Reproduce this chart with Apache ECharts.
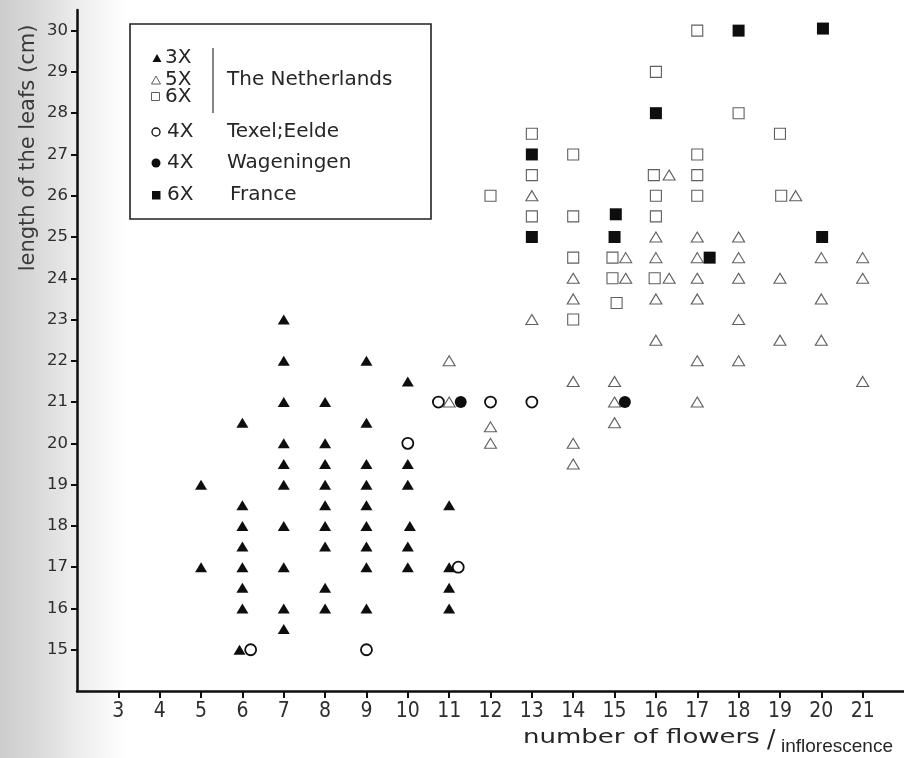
<!DOCTYPE html>
<html>
<head>
<meta charset="utf-8">
<script src="https://cdn.jsdelivr.net/npm/echarts@6.0.0/dist/echarts.min.js"></script>
<style>
  html, body { margin: 0; padding: 0; background: #fff; }
  #chart { width: 904px; height: 758px; }
</style>
</head>
<body>
<div id="chart"></div>
<script>
// ---- data (x = number of flowers / inflorescence, y = leaf length cm) ----
const xTicks = [3, 4, 5, 6, 7, 8, 9, 10, 11, 12, 13, 14, 15, 16, 17, 18, 19, 20, 21];
const yTicks = [15, 16, 17, 18, 19, 20, 21, 22, 23, 24, 25, 26, 27, 28, 29, 30];

// 3X The Netherlands (filled triangles)
const nl3x = [
  [7, 23], [7, 22], [9, 22], [10, 21.5], [7, 21], [8, 21], [6, 20.5], [9, 20.5],
  [7, 20], [8, 20], [7, 19.5], [8, 19.5], [9, 19.5], [10, 19.5],
  [5, 19], [7, 19], [8, 19], [9, 19], [10, 19],
  [6, 18.5], [8, 18.5], [9, 18.5], [11, 18.5],
  [6, 18], [7, 18], [8, 18], [9, 18], [10.05, 18],
  [6, 17.5], [8, 17.5], [9, 17.5], [10, 17.5],
  [5, 17], [6, 17], [7, 17], [9, 17], [10, 17], [11, 17],
  [6, 16.5], [8, 16.5], [11, 16.5],
  [6, 16], [7, 16], [8, 16], [9, 16], [11, 16],
  [7, 15.5], [5.93, 15]
];
// 5X The Netherlands (open triangles)
const nl5x = [
  [11, 22], [11, 21], [12, 20.4], [12, 20], [13, 23], [13, 26],
  [14, 21.5], [14, 20], [14, 19.5], [14, 24], [14, 23.5],
  [15, 21.5], [15, 21], [15, 20.5], [15.27, 24.5], [15.27, 24],
  [16, 25], [16, 24.5], [16.32, 24], [16, 23.5], [16, 22.5], [16.32, 26.5],
  [17, 25], [17, 24.5], [17, 24], [17, 23.5], [17, 22], [17, 21],
  [18, 25], [18, 24.5], [18, 24], [18, 23], [18, 22],
  [19, 24], [19, 22.5], [19.38, 26],
  [20, 24.5], [20, 23.5], [20, 22.5],
  [21, 24.5], [21, 24], [21, 21.5]
];
// 6X The Netherlands (open squares)
const nl6x = [
  [17, 30], [16, 29], [18, 28], [13, 27.5], [19, 27.5], [14, 27], [17, 27],
  [13, 26.5], [15.95, 26.5], [17, 26.5], [12, 26], [16, 26], [17, 26], [19.03, 26],
  [13, 25.5], [14, 25.5], [16, 25.5], [14, 24.5], [14.95, 24.5], [14.95, 24],
  [15.97, 24], [15.05, 23.4], [14, 23]
];
// 4X Texel;Eelde (open circles)
const texel4x = [[6.2, 15], [9, 15], [10, 20], [10.74, 21], [11.22, 17], [12, 21], [13, 21]];
// 4X Wageningen (filled circles)
const wag4x = [[11.28, 21], [15.25, 21]];
// 6X France (filled squares)
const fr6x = [[18, 30], [20.04, 30.05], [16, 28], [13, 27], [15.03, 25.55], [13, 25], [15, 25], [17.3, 24.5], [20.02, 25]];

// ---- chart ----
const dark = '#0e0e0e';
const grayLine = '#5f5f5f';
const txt = '#2e2e2e';
const sans = "'DejaVu Sans', 'Liberation Sans', sans-serif";
const narrow = "'Liberation Sans Narrow', 'DejaVu Sans Condensed', 'Roboto Condensed', 'Liberation Sans', sans-serif";

const chart = echarts.init(document.getElementById('chart'), null, { renderer: 'canvas' });

function legendTri(cx, cy, filled) {
  return {
    type: 'polygon', z: 20,
    shape: { points: [[cx - 4.5, cy + 4], [cx + 4.5, cy + 4], [cx, cy - 4]] },
    style: filled ? { fill: dark } : { fill: 'none', stroke: grayLine, lineWidth: 1 }
  };
}
function legendText(x, y, text, extra) {
  return {
    type: 'text', z: 20, x: x, y: y,
    style: Object.assign({ text: text, font: '20px ' + sans, fill: '#262626', verticalAlign: 'middle', align: 'left' }, extra || {})
  };
}

const option = {
  backgroundColor: '#fff',
  animation: false,
  grid: { left: 77, right: 0, top: 10, bottom: 67, containLabel: false },
  xAxis: {
    type: 'value', min: 2, max: 22, interval: 1,
    axisLine: { show: true, onZero: false, lineStyle: { color: dark, width: 2.5 } },
    axisTick: { show: true, customValues: xTicks, length: 7, lineStyle: { color: dark, width: 2 } },
    axisLabel: { customValues: xTicks, margin: 10, fontSize: 21, fontFamily: narrow, color: txt },
    splitLine: { show: false }
  },
  yAxis: {
    type: 'value', min: 14, max: 30.5, interval: 1,
    axisLine: { show: true, onZero: false, lineStyle: { color: dark, width: 2.5 } },
    axisTick: { show: true, customValues: yTicks, length: 6, lineStyle: { color: dark, width: 2 } },
    axisLabel: { customValues: yTicks, margin: 9, fontSize: 16.5, fontFamily: sans, color: txt },
    splitLine: { show: false }
  },
  series: [
    { name: '5X The Netherlands', type: 'scatter', data: nl5x, symbol: 'triangle', symbolSize: [12, 10],
      itemStyle: { color: 'rgba(0,0,0,0)', borderColor: grayLine, borderWidth: 1.1, opacity: 1 } },
    { name: '6X The Netherlands', type: 'scatter', data: nl6x, symbol: 'rect', symbolSize: 11,
      itemStyle: { color: 'rgba(0,0,0,0)', borderColor: grayLine, borderWidth: 1.1, opacity: 1 } },
    { name: '3X The Netherlands', type: 'scatter', data: nl3x, symbol: 'triangle', symbolSize: [12, 10],
      itemStyle: { color: dark, opacity: 1 } },
    { name: '4X Texel;Eelde', type: 'scatter', data: texel4x, symbol: 'circle', symbolSize: 11,
      itemStyle: { color: 'rgba(0,0,0,0)', borderColor: dark, borderWidth: 1.8, opacity: 1 } },
    { name: '4X Wageningen', type: 'scatter', data: wag4x, symbol: 'circle', symbolSize: 12,
      itemStyle: { color: dark, opacity: 1 } },
    { name: '6X France', type: 'scatter', data: fr6x, symbol: 'rect', symbolSize: 12,
      itemStyle: { color: dark, opacity: 1 } }
  ],
  graphic: [
    // scanned-page shading at the left edge
    { type: 'rect', z: -10, silent: true, shape: { x: 0, y: 0, width: 904, height: 758 },
      style: { fill: new echarts.graphic.LinearGradient(0, 0, 1, 0, [
        { offset: 0, color: '#cdcdcd' }, { offset: 0.04, color: '#d9d9d9' },
        { offset: 0.09, color: '#eeeeee' }, { offset: 0.14, color: '#ffffff' }, { offset: 1, color: '#ffffff' }]) } },
    // axis titles
    { type: 'text', z: 20, x: 29, y: 148, rotation: Math.PI / 2,
      style: { text: 'length of the leafs (cm)', font: '21px ' + sans, fill: '#3a3a3a', align: 'center', verticalAlign: 'middle' } },
    { type: 'text', z: 20, x: 523, y: 738, scaleX: 1.3,
      style: { text: 'number of flowers', font: '20px ' + sans, fill: '#262626', verticalAlign: 'middle' } },
    { type: 'text', z: 20, x: 767, y: 740, style: { text: '/', font: '25px ' + sans, fill: '#262626', verticalAlign: 'middle' } },
    { type: 'text', z: 20, x: 781, y: 747,
      style: { text: 'inflorescence', font: '19px ' + "'Liberation Sans', sans-serif", fill: '#262626', verticalAlign: 'middle' } },
    // legend box
    { type: 'rect', z: 19, shape: { x: 130, y: 24, width: 301, height: 195 },
      style: { fill: '#fff', stroke: '#222', lineWidth: 1.6 } },
    legendTri(157, 58, true),
    legendText(165, 58, '3X'),
    legendTri(156, 80, false),
    legendText(165, 80, '5X'),
    { type: 'rect', z: 20, shape: { x: 151.5, y: 92.5, width: 8, height: 8 }, style: { fill: 'none', stroke: grayLine, lineWidth: 1 } },
    legendText(165, 97, '6X'),
    { type: 'line', z: 20, shape: { x1: 213, y1: 48, x2: 213, y2: 113 }, style: { stroke: '#333', lineWidth: 1.2 } },
    legendText(227, 80, 'The Netherlands'),
    { type: 'circle', z: 20, shape: { cx: 156, cy: 132, r: 4 }, style: { fill: 'none', stroke: dark, lineWidth: 1.3 } },
    legendText(167, 132, '4X'),
    legendText(227, 132, 'Texel;Eelde'),
    { type: 'circle', z: 20, shape: { cx: 156, cy: 163, r: 4.5 }, style: { fill: dark } },
    legendText(167, 163, '4X'),
    legendText(227, 163, 'Wageningen'),
    { type: 'rect', z: 20, shape: { x: 152, y: 191, width: 8.5, height: 8.5 }, style: { fill: dark } },
    legendText(167, 195, '6X'),
    legendText(230, 195, 'France')
  ]
};
chart.setOption(option);
</script>
</body>
</html>
